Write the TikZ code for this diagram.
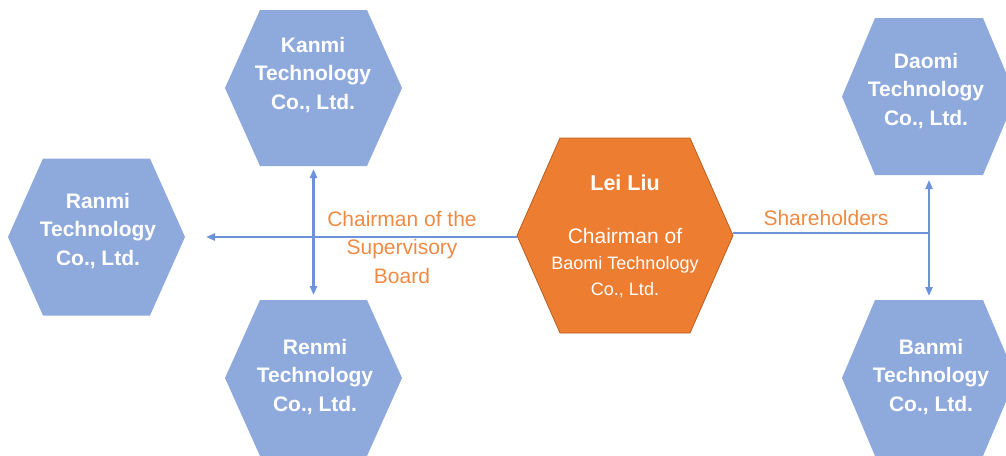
\documentclass[tikz,border=0pt]{standalone}
\usepackage{fontspec}
\setmainfont{Liberation Sans}
\usetikzlibrary{arrows.meta}
\definecolor{hexblue}{HTML}{8EA9DB}
\definecolor{hexorange}{HTML}{ED7D31}
\definecolor{hexedge}{HTML}{B85F22}
\definecolor{linkblue}{HTML}{6E92DA}
\definecolor{labelorange}{HTML}{EF8A44}
\newcommand\hexoutline[2]{(#1.west) -- ([xshift=#2]#1.north west) -- ([xshift=-#2]#1.north east) -- (#1.east) -- ([xshift=-#2]#1.south east) -- ([xshift=#2]#1.south west) -- cycle}
\begin{document}
\begin{tikzpicture}[x=1pt,y=-1pt,
  hexbox/.style={draw=none,inner sep=0pt,outer sep=0pt,shape=rectangle},
  bluetext/.style={text=white,align=center,font=\bfseries\fontsize{21}{28.5}\selectfont},
  linklabel/.style={text=labelorange,align=center,font=\fontsize{21}{28.5}\selectfont},
  link/.style={draw=linkblue,line width=2.2pt},
  tip/.style={-{Triangle[length=9pt,width=7pt]}},
  bitip/.style={{Triangle[length=9pt,width=7pt]}-{Triangle[length=9pt,width=7pt]}}]
\useasboundingbox (0,0) rectangle (1006,455);
% nodes (invisible boxes, hexagons drawn from their anchors)
\node[hexbox,minimum width=177pt,minimum height=156pt] (kanmi) at (313.5,88) {};
\node[hexbox,minimum width=177pt,minimum height=156pt] (renmi) at (313.5,378) {};
\node[hexbox,minimum width=177pt,minimum height=157pt] (ranmi) at (96.5,237) {};
\node[hexbox,minimum width=174pt,minimum height=157pt] (daomi) at (929,96.5) {};
\node[hexbox,minimum width=174pt,minimum height=156pt] (banmi) at (929,378) {};
\node[hexbox,minimum width=216pt,minimum height=195pt] (lei) at (625,235.5) {};
% shapes
\fill[hexblue] \hexoutline{kanmi}{35pt};
\fill[hexblue] \hexoutline{renmi}{35pt};
\fill[hexblue] \hexoutline{ranmi}{35pt};
\fill[hexblue] \hexoutline{daomi}{33pt};
\fill[hexblue] \hexoutline{banmi}{33pt};
\filldraw[fill=hexorange,draw=hexedge,line width=0.8pt] \hexoutline{lei}{43pt};
% texts
\node[bluetext] (kanmitext) at (313,75) {Kanmi\\Technology\\Co., Ltd.};
\node[bluetext] (renmitext) at (315,377) {Renmi\\Technology\\Co., Ltd.};
\node[bluetext] (ranmitext) at (98,231) {Ranmi\\Technology\\Co., Ltd.};
\node[bluetext] (daomitext) at (926,91) {Daomi\\Technology\\Co., Ltd.};
\node[bluetext] (banmitext) at (931,377) {Banmi\\Technology\\Co., Ltd.};
\node[text=white,font=\bfseries\fontsize{21.5}{24}\selectfont] (leiname) at (625,183) {Lei Liu};
\node[text=white,align=center,font=\fontsize{18}{26}\selectfont] (leirole) at (625,263)
  {{\fontsize{21}{26}\selectfont Chairman of}\\Baomi Technology\\Co., Ltd.};
% connectors
\coordinate (join) at ([yshift=2.5pt]lei.east -| daomi.south);
\draw[link,tip,shorten >=21pt] ([yshift=-1.5pt]lei.west) -- ([yshift=-1.5pt]lei.west -| ranmi.east);
\draw[link,bitip,shorten <=3pt,shorten >=5pt] (kanmi.south) -- (renmi.north);
\draw[link] ([yshift=2.5pt]lei.east) -- (join);
\draw[link,bitip,shorten <=5pt,shorten >=4pt] (daomi.south) -- (banmi.north);
% labels
\node[linklabel] (boardlabel) at (402,247) {Chairman of the\\Supervisory\\Board};
\node[linklabel] (sharelabel) at (826,218) {Shareholders};
\end{tikzpicture}
\end{document}
